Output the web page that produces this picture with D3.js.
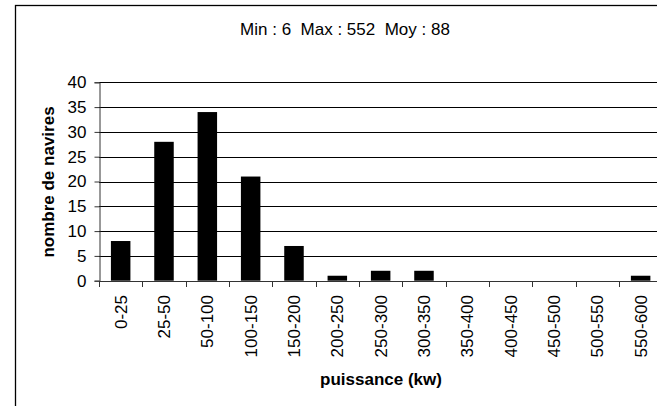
<!DOCTYPE html>
<html>
<head>
<meta charset="utf-8">
<script src="https://cdn.jsdelivr.net/npm/d3@7"></script>
<style>
  html, body { margin: 0; padding: 0; background: #fff; }
  svg { display: block; font-family: "Liberation Sans", Arial, sans-serif; }
  text { white-space: pre; }
</style>
</head>
<body>
<svg id="chart" width="657" height="406"></svg>
<script>
const categories = ["0-25","25-50","50-100","100-150","150-200","200-250","250-300","300-350","350-400","400-450","450-500","500-550","550-600"];
const counts = [8, 28, 34, 21, 7, 1, 2, 2, 0, 0, 0, 0, 1];
const yTicks = [0, 5, 10, 15, 20, 25, 30, 35, 40];
const titleText = "Min : 6  Max : 552  Moy : 88";
const yTitle = "nombre de navires";
const xTitle = "puissance (kw)";

(function () {
const svg = d3.select("#chart");
const pLeft = 99, pRight = 662.3, pTop = 82.3, pBottom = 280.7;

// outer frame (cropped on right/bottom)
svg.append("rect")
  .attr("x", 15.5).attr("y", 5.5)
  .attr("width", 700).attr("height", 500)
  .attr("fill", "#fff").attr("stroke", "#000").attr("stroke-width", 1.3);

const x = d3.scaleBand().domain(categories).range([pLeft, pRight]).paddingInner(0).paddingOuter(0);
const y = d3.scaleLinear().domain([0, 40]).range([pBottom, pTop]);

// gridlines
svg.append("g")
  .selectAll("line")
  .data(yTicks.filter(d => d > 0))
  .join("line")
  .attr("x1", pLeft).attr("x2", pRight)
  .attr("y1", d => Math.round(y(d)) + 0.5).attr("y2", d => Math.round(y(d)) + 0.5)
  .attr("stroke", "#000").attr("stroke-width", 1);

// bars
const bw = x.bandwidth() * 0.45;
svg.append("g")
  .selectAll("rect")
  .data(counts)
  .join("rect")
  .attr("x", (d, i) => x(categories[i]) + x.bandwidth() / 2 - bw / 2)
  .attr("y", d => y(d))
  .attr("width", bw)
  .attr("height", d => y(0) - y(d))
  .attr("fill", "#000");

// y axis
const yAxis = d3.axisLeft(y).tickValues(yTicks).tickSize(5).tickPadding(8).tickFormat(d3.format("d"));
const gy = svg.append("g").attr("transform", `translate(${pLeft + 0.5},0)`).call(yAxis);
gy.select(".domain").attr("stroke", "#333");
gy.selectAll(".tick line").attr("stroke", "#333");
gy.selectAll("text").attr("font-size", 17).attr("fill", "#000")
  .attr("font-family", "Liberation Sans, Arial, sans-serif");

// x axis line and ticks at band boundaries
const gx = svg.append("g");
gx.append("line")
  .attr("x1", pLeft).attr("x2", pRight)
  .attr("y1", Math.round(pBottom) + 0.5).attr("y2", Math.round(pBottom) + 0.5)
  .attr("stroke", "#333");
const bounds = categories.map(c => x(c)).concat([pRight]);
gx.selectAll("line.tk")
  .data(bounds)
  .join("line").attr("class", "tk")
  .attr("x1", d => Math.round(d) + 0.5).attr("x2", d => Math.round(d) + 0.5)
  .attr("y1", Math.round(pBottom)).attr("y2", Math.round(pBottom) + 6)
  .attr("stroke", "#333");

// x labels rotated
svg.append("g")
  .selectAll("text")
  .data(categories)
  .join("text")
  .attr("transform", d => `translate(${x(d) + x.bandwidth() / 2},295) rotate(-90)`)
  .attr("text-anchor", "end")
  .attr("dy", "0.35em")
  .attr("font-size", 17)
  .attr("fill", "#000")
  .text(d => d);

// title
svg.append("text")
  .attr("x", 345).attr("y", 35)
  .attr("text-anchor", "middle")
  .attr("font-size", 17)
  .attr("fill", "#000")
  .attr("xml:space", "preserve")
  .text(titleText);

// y title
svg.append("text")
  .attr("transform", "translate(54,182) rotate(-90)")
  .attr("text-anchor", "middle")
  .attr("font-size", 17)
  .attr("font-weight", "bold")
  .attr("fill", "#000")
  .text(yTitle);

// x title
svg.append("text")
  .attr("x", 381).attr("y", 385)
  .attr("text-anchor", "middle")
  .attr("font-size", 17)
  .attr("font-weight", "bold")
  .attr("fill", "#000")
  .text(xTitle);
})();
</script>
</body>
</html>
